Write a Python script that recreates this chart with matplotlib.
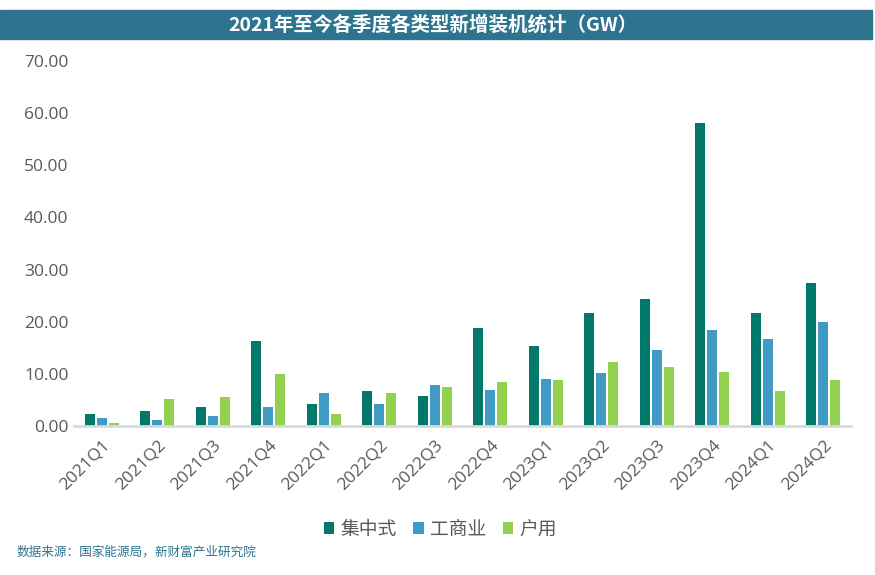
import matplotlib
matplotlib.use("Agg")
import matplotlib.pyplot as plt
import numpy as np
from matplotlib.patches import Rectangle

plt.rcParams['font.family'] = ['Noto Sans CJK SC', 'DejaVu Sans']

# 数据（GW）
quarters = ["2021Q1", "2021Q2", "2021Q3", "2021Q4", "2022Q1", "2022Q2", "2022Q3",
            "2022Q4", "2023Q1", "2023Q2", "2023Q3", "2023Q4", "2024Q1", "2024Q2"]
centralized = [2.4, 2.8, 3.7, 16.4, 4.3, 6.8, 5.8, 18.8, 15.3, 21.7, 24.3, 58.1, 21.7, 27.4]
commercial = [1.5, 1.2, 1.9, 3.6, 6.3, 4.3, 7.9, 6.9, 9.0, 10.2, 14.6, 18.4, 16.7, 19.9]
household = [0.5, 5.1, 5.6, 9.9, 2.4, 6.3, 7.5, 8.4, 8.8, 12.3, 11.3, 10.4, 6.7, 8.8]
series_names = ["集中式", "工商业", "户用"]
yticks = np.arange(0, 71, 10)

colors = ["#00796B", "#3F9BC4", "#92D050"]
num_font = ['Open Sans', 'Noto Sans CJK SC']

fig = plt.figure(figsize=(8.75, 5.75), dpi=100)
ax = fig.add_axes([0.0846, 0.259, 0.888, 0.635])

x = np.arange(len(quarters))
w = 0.18
step = 0.215
for i, (vals, name) in enumerate(zip([centralized, commercial, household], series_names)):
    ax.bar(x + (i - 1) * step, vals, width=w, color=colors[i], label=name, zorder=2)

ax.set_xlim(-0.5, len(quarters) - 0.5)
ax.set_ylim(0, 70)
ax.set_yticks(yticks)
ax.set_yticklabels([f"{v:.2f}" for v in yticks], fontsize=12.5, color="#595959", family=num_font)
ax.set_xticks(x)
ax.set_xticklabels(quarters, rotation=45, ha="right", rotation_mode="anchor",
                   fontsize=12.5, color="#595959", family=num_font)
ax.tick_params(axis="both", length=0)
ax.tick_params(axis="x", pad=8)
ax.tick_params(axis="y", pad=4)

for s in ["top", "right", "left"]:
    ax.spines[s].set_visible(False)
ax.spines["bottom"].set_color("#D9D9D9")
ax.spines["bottom"].set_linewidth(2)
ax.spines["bottom"].set_zorder(3)

# 标题栏
fig.patches.append(Rectangle((0, 1 - 39 / 575), 872 / 875, 29 / 575,
                             transform=fig.transFigure, color="#2E748F", zorder=0))
fig.text(0.495, 1 - 24.5 / 575, "2021年至今各季度各类型新增装机统计（GW）", ha="center", va="center",
         color="white", fontsize=14, fontweight="bold")

leg = fig.legend(loc="center", bbox_to_anchor=(0.503, 1 - 529 / 575), ncol=3, frameon=False,
                 fontsize=13.5, handlelength=0.55, handleheight=0.55, handletextpad=0.32,
                 columnspacing=0.9)
for t in leg.get_texts():
    t.set_color("#595959")

fig.text(0.019, 1 - 552 / 575, "数据来源：国家能源局，新财富产业研究院", ha="left", va="center",
         color="#2E748F", fontsize=9.1)

fig.savefig("out.png", dpi=100)
